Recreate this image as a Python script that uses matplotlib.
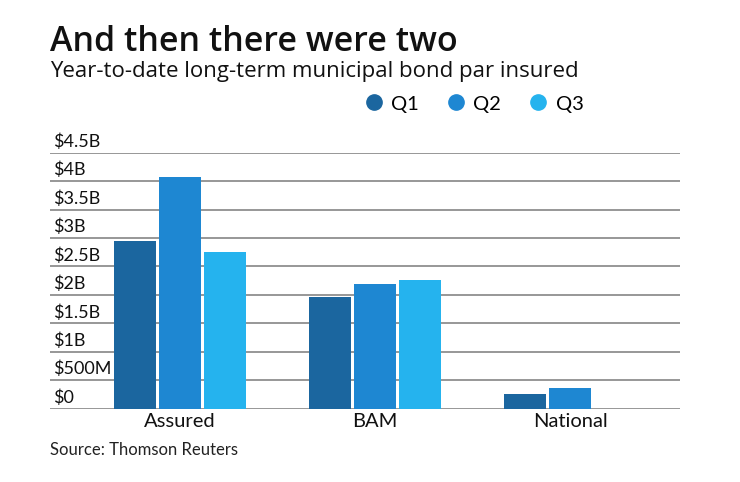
import numpy as np
import matplotlib.pyplot as plt
from matplotlib.lines import Line2D

plt.rcParams['font.family'] = ['Lato', 'DejaVu Sans']

companies = ['Assured', 'BAM', 'National']
quarters = ['Q1', 'Q2', 'Q3']
q1 = [2.94, 1.97, 0.25]
q2 = [4.07, 2.19, 0.36]
q3 = [2.76, 2.26, 0.0]
tick_vals = [0, 0.5, 1, 1.5, 2, 2.5, 3, 3.5, 4, 4.5]
tick_labels = ['$0', '$500M', '$1B', '$1.5B', '$2B', '$2.5B', '$3B', '$3.5B', '$4B', '$4.5B']
colors = ['#1b669f', '#1e87d2', '#25b3ee']

fig = plt.figure(figsize=(7.4, 4.82), dpi=100)
ax = fig.add_axes([50 / 740, 73.3 / 482, 630 / 740, 256 / 482])

x = np.arange(len(companies))
w = 0.215
step = 0.232
for i, (vals, c, q) in enumerate(zip([q1, q2, q3], colors, quarters)):
    ax.bar(x + (i - 1) * step, vals, width=w, color=c, label=q, zorder=3)

for v in tick_vals:
    ax.axhline(v, color='#8f8f8f', lw=1.3, zorder=1)

for v, lab in zip(tick_vals, tick_labels):
    ax.annotate(lab.replace('$', r'\$'), xy=(0, v), xycoords=('axes fraction', 'data'),
                xytext=(2, 2), textcoords='offset points', ha='left', va='bottom',
                fontsize=13, color='#111111')

ax.set_xlim(-0.667, 2.564)
ax.set_ylim(0, 4.5)
ax.set_yticks([])
ax.set_xticks(x)
ax.set_xticklabels(companies, fontsize=14.5, color='#111111')
ax.tick_params(axis='x', length=0, pad=3)
for s in ax.spines.values():
    s.set_visible(False)

fig.text(50 / 740, 1 - 42 / 482, 'And then there were two', fontsize=24.5, fontweight='semibold',
         va='center', ha='left', color='#111111', family=['Open Sans', 'DejaVu Sans'])
fig.text(50 / 740, 1 - 72 / 482, 'Year-to-date long-term municipal bond par insured',
         fontsize=16, va='center', ha='left', color='#111111', family=['Open Sans', 'DejaVu Sans'])
fig.text(50 / 740, 1 - 450 / 482, 'Source: Thomson Reuters', fontsize=12,
         va='center', ha='left', color='#222222')

# round legend markers
handles = [Line2D([0], [0], marker='o', ls='', markersize=11, color=c) for c in colors]
ax.legend(handles, quarters, loc='center left', bbox_to_anchor=(357 / 740, 1 - 104 / 482),
          bbox_transform=fig.transFigure, ncol=3, frameon=False, fontsize=14.5,
          handlelength=0.7, columnspacing=1.5, handletextpad=0.5, borderpad=0)

fig.savefig('out.png', dpi=100)
